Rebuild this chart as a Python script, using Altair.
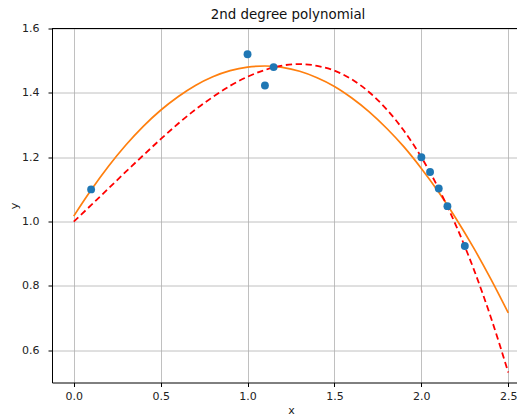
import altair as alt
import pandas as pd

# observed points
pt_x = [0.1, 1.0, 1.1, 1.15, 2.0, 2.05, 2.1, 2.15, 2.25]
pt_y = [1.10, 1.52, 1.423, 1.48, 1.20, 1.154, 1.103, 1.048, 0.924]

# curves
curve_x = [0.0, 0.1, 0.2, 0.3, 0.4, 0.5, 0.6, 0.7, 0.8, 0.9, 1.0, 1.1, 1.2,
           1.3, 1.4, 1.5, 1.6, 1.7, 1.8, 1.9, 2.0, 2.1, 2.2, 2.3, 2.4, 2.5]
fit_y = [1.017, 1.098, 1.172, 1.238, 1.296, 1.346, 1.388, 1.423, 1.450, 1.469,
         1.480, 1.4835, 1.479, 1.467, 1.447, 1.420, 1.384, 1.341, 1.290, 1.232,
         1.165, 1.091, 1.009, 0.919, 0.821, 0.716]
true_y = [1.000, 1.051, 1.103, 1.155, 1.206, 1.256, 1.304, 1.348, 1.387, 1.422,
          1.450, 1.471, 1.485, 1.4895, 1.484, 1.469, 1.442, 1.402, 1.349, 1.282,
          1.200, 1.102, 0.987, 0.854, 0.702, 0.531]

x_ticks = [0.0, 0.5, 1.0, 1.5, 2.0, 2.5]
y_ticks = [0.6, 0.8, 1.0, 1.2, 1.4, 1.6]

pts = pd.DataFrame({"x": pt_x, "y": pt_y})
fit = pd.DataFrame({"x": curve_x, "y": fit_y})
true = pd.DataFrame({"x": curve_x, "y": true_y})
top = pd.DataFrame({"v": [1.6]})

xscale = alt.Scale(domain=[-0.125, 2.625], nice=False, zero=False)
yscale = alt.Scale(domain=[0.5, 1.6], nice=False, zero=False)

xaxis = alt.Axis(values=x_ticks, format=".1f", title="x", labelFontSize=11,
                 titleFontSize=11, titleFontWeight="normal", tickSize=4,
                 labelPadding=4, titlePadding=3, domainColor="black",
                 tickColor="black", labelColor="#222222", titleColor="#222222",
                 grid=True, gridColor="#b0b0b0", gridWidth=0.8, labelFlush=False)
yaxis = alt.Axis(values=y_ticks, format=".1f", title="y", labelFontSize=11,
                 titleFontSize=11, titleFontWeight="normal", tickSize=4,
                 labelPadding=9, titlePadding=2, domainColor="black",
                 tickColor="black", labelColor="#222222", titleColor="#222222",
                 grid=True, gridColor="#b0b0b0", gridWidth=0.8, labelFlush=False)

base_pts = alt.Chart(pts).mark_circle(size=62, color="#1f77b4", opacity=1).encode(
    x=alt.X("x:Q", scale=xscale, axis=xaxis),
    y=alt.Y("y:Q", scale=yscale, axis=yaxis),
)

fit_line = alt.Chart(fit).mark_line(color="#ff7f0e", strokeWidth=1.7,
                                    interpolate="monotone").encode(
    x=alt.X("x:Q", scale=xscale), y=alt.Y("y:Q", scale=yscale))

true_line = alt.Chart(true).mark_line(color="#ff0000", strokeWidth=1.8,
                                      strokeDash=[6.3, 3.6],
                                      interpolate="monotone").encode(
    x=alt.X("x:Q", scale=xscale), y=alt.Y("y:Q", scale=yscale))

top_spine = alt.Chart(top).mark_rule(color="black", strokeWidth=1).encode(
    y=alt.Y("v:Q", scale=yscale))

chart = alt.layer(fit_line, true_line, base_pts, top_spine).properties(
    width=478, height=354,
    title=alt.TitleParams("2nd degree polynomial", fontSize=13.4,
                          fontWeight="normal", anchor="middle", offset=1,
                          dx=-3, color="#111111"),
    padding={"left": 44, "top": 20.5, "right": -13, "bottom": 35},
    autosize=alt.AutoSizeParams(type="none"),
).configure(font="DejaVu Sans").configure_view(strokeWidth=0)

chart.save("out.html", embed_options={"renderer": "svg", "actions": False})
